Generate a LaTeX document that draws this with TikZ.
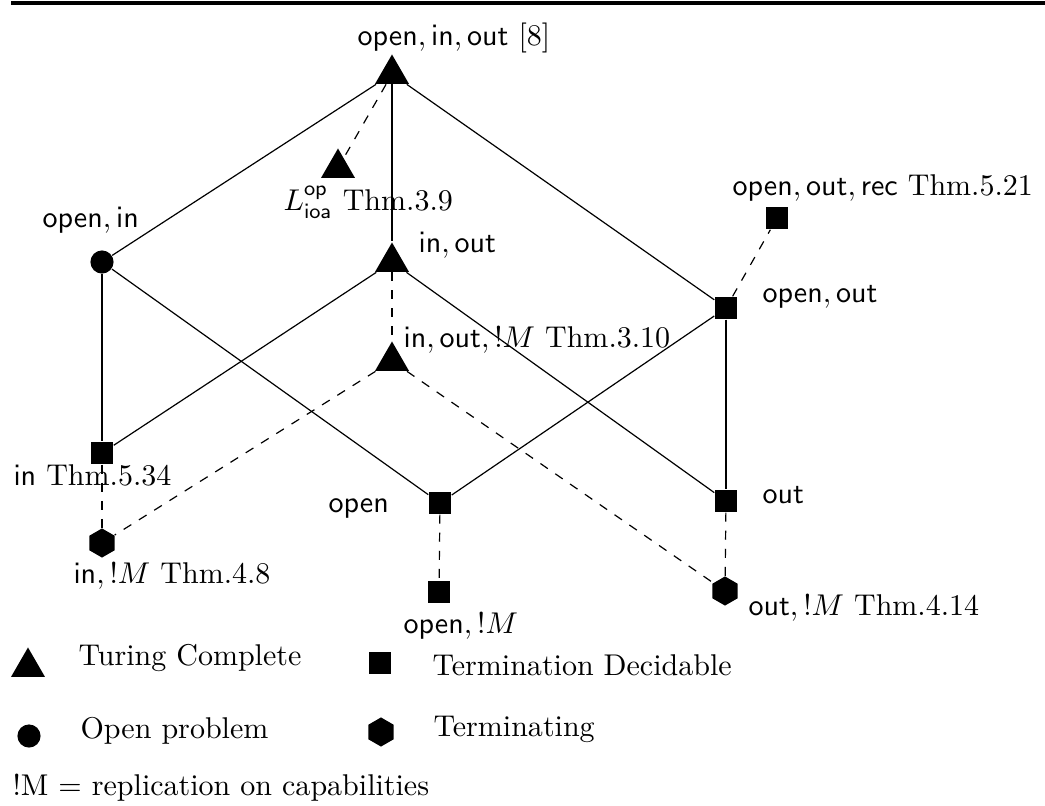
\documentclass[tikz,border=0pt]{standalone}
\usepackage{amsmath}
\usepackage{tikz}
\usetikzlibrary{shapes.geometric}
\tikzset{
    turing/.style={regular polygon, regular polygon sides=3, fill=black, inner sep=0pt, minimum size=13pt},
    decidable/.style={rectangle, fill=black, inner sep=0pt, minimum size=7.4pt},
    openprob/.style={circle, fill=black, inner sep=0pt, minimum size=7.7pt},
    terminating/.style={regular polygon, regular polygon sides=6, shape border rotate=30, fill=black, inner sep=0pt, minimum size=9.7pt},
    line/.style={thin},
    dline/.style={thin, dashed},
    lbl/.style={anchor=base west, inner sep=0pt},
}
\begin{document}
\begin{tikzpicture}
        [x=0.333pt,y=-0.333pt]
        \useasboundingbox (0,0) rectangle (1045,805);

        % Rule on top
        \coordinate (rulel) at (11,3);
        \coordinate (ruler) at (1045,3);
        \draw[line width=1.2pt] (rulel) -- (ruler);

        % Nodes of the lattice
        \node[turing] (oio) at (392,74) {};
        \node[turing] (lioa) at (338,168) {};
        \node[openprob] (oi) at (102,262) {};
        \node[turing] (io) at (392,262) {};
        \node[decidable] (oorec) at (777,218) {};
        \node[decidable] (oo) at (726,308) {};
        \node[turing] (iom) at (392,361) {};
        \node[decidable] (in) at (102,453) {};
        \node[decidable] (op) at (440,503) {};
        \node[decidable] (out) at (726,501) {};
        \node[terminating] (inm) at (102,543) {};
        \node[decidable] (opm) at (439,592) {};
        \node[terminating] (outm) at (725,591) {};

        % Labels
        \node[lbl] (loio) at (357,45) {$\mathsf{open}, \mathsf{in}, \mathsf{out}$ [8]};
        \node[lbl] (llioa) at (283,210) {$L^{\mathsf{op}}_{\mathsf{ioa}}$ Thm.3.9};
        \node[lbl] (loi) at (42,227) {$\mathsf{open}, \mathsf{in}$};
        \node[lbl] (lio) at (418,252) {$\mathsf{in}, \mathsf{out}$};
        \node[lbl] (loorec) at (732,195) {$\mathsf{open}, \mathsf{out}, \mathsf{rec}$ Thm.5.21};
        \node[lbl] (loo) at (762,302) {$\mathsf{open}, \mathsf{out}$};
        \node[lbl] (liom) at (403,347) {$\mathsf{in}, \mathsf{out}, !M$ Thm.3.10};
        \node[lbl] (lin) at (13,485) {$\mathsf{in}$ Thm.5.34};
        \node[lbl] (lopen) at (328,512) {$\mathsf{open}$};
        \node[lbl] (lout) at (762,503) {$\mathsf{out}$};
        \node[lbl] (linm) at (73,583) {$\mathsf{in}, !M$ Thm.4.8};
        \node[lbl] (lopm) at (403,633) {$\mathsf{open}, !M$};
        \node[lbl] (loutm) at (748,615) {$\mathsf{out}, !M$ Thm.4.14};

        % Lines
        \draw[line] (oio) -- (oi);
        \draw[line] (oio) -- (io);
        \draw[line] (oio) -- (oo);
        \draw[line] (oi) -- (in);
        \draw[line] (oi) -- (op);
        \draw[line] (io) -- (in);
        \draw[line] (io) -- (out);
        \draw[line] (oo) -- (op);
        \draw[line] (oo) -- (out);

        % Dashed lines
        \draw[dline] (oio) -- (lioa);
        \draw[dline] (io) -- (iom);
        \draw[dline] (oo) -- (oorec);
        \draw[dline] (in) -- (inm);
        \draw[dline] (iom) -- (inm);
        \draw[dline] (iom) -- (outm);
        \draw[dline] (op) -- (opm);
        \draw[dline] (out) -- (outm);

        % Legend
        \node[turing] (ktc) at (28,667) {};
        \node[lbl] (ltc) at (78,665) {Turing Complete};
        \node[decidable] (kdec) at (380,663) {};
        \node[lbl] (ldec) at (432,675) {Termination Decidable};
        \node[openprob] (kop) at (29,736) {};
        \node[lbl] (lkop) at (80,738) {Open problem};
        \node[terminating] (kterm) at (381,732) {};
        \node[lbl] (lterm) at (433,736) {Terminating};
        \node[lbl] (lrep) at (12,795) {!M = replication on capabilities};

    \end{tikzpicture}
\end{document}
